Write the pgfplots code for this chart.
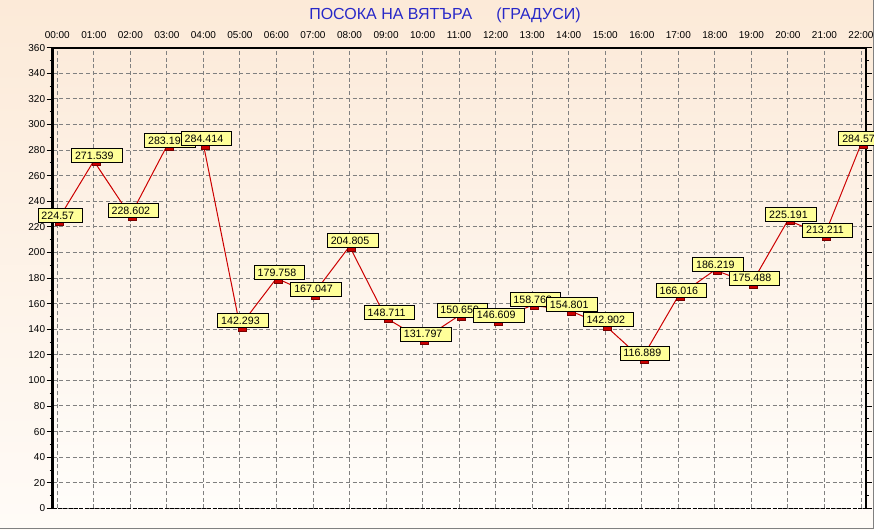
\documentclass[border=0pt]{standalone}
\usepackage{pgfplots}
\pgfplotsset{compat=1.18}
\usepackage{pgfplotstable}
\usepackage{fontspec}
\setmainfont{Liberation Sans}
\definecolor{bgTop}{RGB}{252,234,216}
\definecolor{bgBot}{RGB}{255,251,247}
\definecolor{plTop}{RGB}{252,235,219}
\definecolor{plBot}{RGB}{255,253,250}
\definecolor{lblY}{RGB}{255,255,153}
\definecolor{lnRed}{RGB}{204,0,0}
\definecolor{mkBorder}{RGB}{120,0,0}
\definecolor{ttlBlue}{RGB}{40,40,200}
\definecolor{grd}{RGB}{128,128,128}
\pgfplotstableread{
x y lab
0 224.57 224.57
1 271.539 271.539
2 228.602 228.602
3 283.193 283.193
4 284.414 284.414
5 142.293 142.293
6 179.758 179.758
7 167.047 167.047
8 204.805 204.805
9 148.711 148.711
10 131.797 131.797
11 150.659 150.659
12 146.609 146.609
13 158.763 158.763
14 154.801 154.801
15 142.902 142.902
16 116.889 116.889
17 166.016 166.016
18 186.219 186.219
19 175.488 175.488
20 225.191 225.191
21 213.211 213.211
22 284.578 284.578
}\winddata
\begin{document}
\begin{tikzpicture}
\useasboundingbox (0,0) rectangle (655.5pt,396.75pt);
\shade[top color=bgTop, bottom color=bgBot] (0,0) rectangle (655.5pt,396.75pt);
\draw[grd, line width=0.75pt] (0,0.6pt) -- (654.9pt,0.6pt) -- (654.9pt,396.75pt);
\node[text=ttlBlue, font=\fontsize{12}{14}\selectfont] at (333.75pt,385.3pt) {ПОСОКА НА ВЯТЪРА\hspace{18pt}(ГРАДУСИ)};
\begin{axis}[
  at={(39.5pt,15.5pt)}, anchor=south west,
  scale only axis, width=609.75pt, height=345.45pt,
  xmin=-0.126, xmax=22.128, ymin=0, ymax=360,
  clip=false,
  axis background/.style={shade, top color=plTop, bottom color=plBot},
  axis line style={draw=none},
  xtick={0,...,22},
  xticklabels={00:00,01:00,02:00,03:00,04:00,05:00,06:00,07:00,08:00,09:00,10:00,11:00,12:00,13:00,14:00,15:00,16:00,17:00,18:00,19:00,20:00,21:00,22:00},
  xticklabel pos=upper,
  xtick style={draw=none},
  ytick={0,20,...,360},
  minor y tick num=1,
  tick align=outside,
  major tick length=4.5pt, minor tick length=2.25pt,
  ytick style={black, line width=0.6pt},
  minor y tick style={black, line width=0.6pt},
  grid=major,
  major grid style={grd, line width=0.75pt, dash pattern=on 3pt off 2pt},
  tick label style={font=\fontsize{7.5}{9}\selectfont},
  xticklabel style={inner ysep=0pt, yshift=2pt},
  yticklabel style={inner xsep=1pt},
  /pgf/number format/assume math mode=true,
]
\draw[black, line width=0.75pt, dash pattern=on 3pt off 1pt] (rel axis cs:0,0) -- (rel axis cs:1,0);
\draw[black, line width=1.5pt] (rel axis cs:0,1) -- (rel axis cs:1,1);
\draw[black, line width=1.5pt] (rel axis cs:1,0) -- (rel axis cs:1,1);
\draw[black, line width=2pt] (rel axis cs:0,0) -- (rel axis cs:0,1);
\addplot[lnRed, line width=0.75pt, mark=square*,
  mark size=1.875pt,
  mark options={solid, xscale=1.6, fill=lnRed, draw=mkBorder, line width=0.4pt, yshift=-1.5pt, xshift=1pt},
  point meta=explicit symbolic,
  nodes near coords={\pgfplotspointmeta\kern4pt},
  nodes near coords style={anchor=south, fill=lblY, draw=black, line width=0.75pt,
    font=\fontsize{8}{9}\selectfont, text=black, inner xsep=2.5pt, inner ysep=1pt,
    minimum height=10.5pt, yshift=0pt, xshift=0.8pt},
] table[x=x, y=y, meta=lab] {\winddata};
\end{axis}
\end{tikzpicture}
\end{document}
